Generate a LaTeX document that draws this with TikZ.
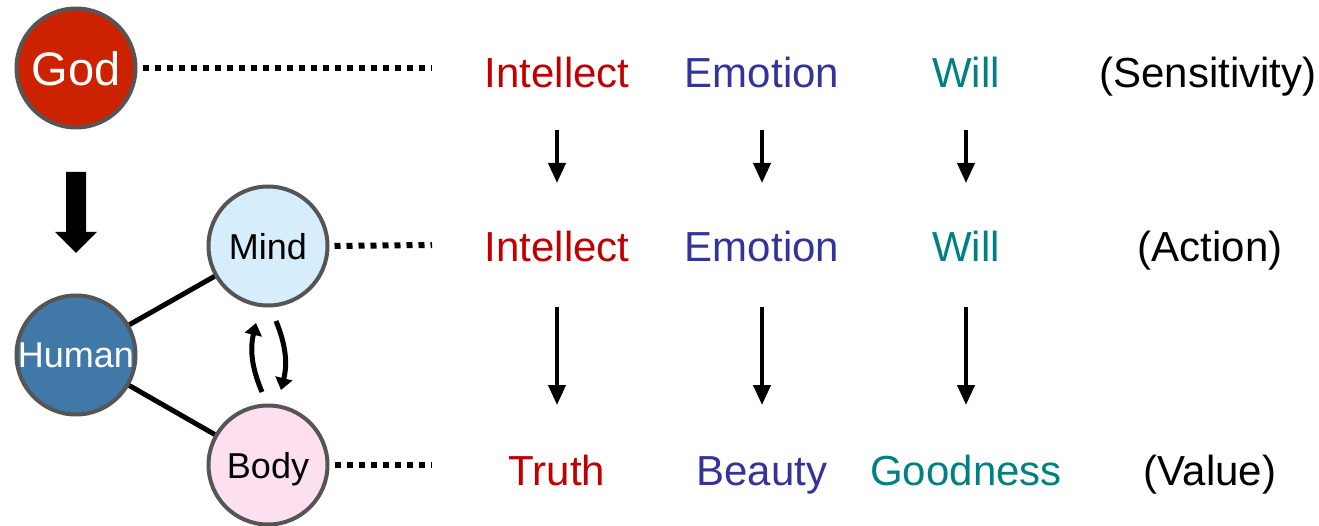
\documentclass[tikz,border=0pt]{standalone}
\usepackage{fontspec}
\setmainfont{Liberation Sans}
\usetikzlibrary{arrows.meta}
\definecolor{godred}{HTML}{CC2200}
\definecolor{humanblue}{HTML}{4078A8}
\definecolor{mindblue}{HTML}{D6EEFC}
\definecolor{bodypink}{HTML}{FDE0EF}
\definecolor{bordergray}{HTML}{555555}
\definecolor{intred}{HTML}{C00000}
\definecolor{emoblue}{HTML}{333399}
\definecolor{willteal}{HTML}{008080}
\begin{document}
\begin{tikzpicture}[x=1pt,y=-1pt,
  circ/.style={circle,draw=bordergray,line width=4pt,minimum size=119pt,inner sep=0pt,text depth=0pt},
  lbl/.style={anchor=base,font=\fontsize{42}{50}\selectfont,inner sep=0pt},
  dots/.style={line width=6pt,dash pattern=on 6pt off 6pt,shorten <=5pt},
  arr/.style={line width=4pt,-{Triangle[width=17pt,length=20pt]}},
  cyc/.style={line width=5pt,-{Triangle[width=17pt,length=12pt]}},
  link/.style={line width=5pt}
  ]
\useasboundingbox (0,0) rectangle (1319,526);
% circles
\node[circ,fill=godred,text=white,font=\fontsize{47}{50}\selectfont] (god) at (76,68) {God};
\node[circ,fill=humanblue,text=white,font=\fontsize{36}{40}\selectfont] (human) at (76,355) {Human};
\node[circ,fill=mindblue,font=\fontsize{36}{40}\selectfont] (mind) at (268,246) {Mind};
\node[circ,fill=bodypink,font=\fontsize{36}{40}\selectfont] (body) at (268,465) {Body};
% links
\draw[link] (human) -- (mind);
\draw[link] (human) -- (body);
% big arrow
\fill (66,172) -- (86,172) -- (86,232) -- (97,232) -- (76,253) -- (55,232) -- (66,232) -- cycle;
% cycle arrows
\coordinate (c1s) at (262,392);
\coordinate (c1e) at (256,323);
\coordinate (c2s) at (276,321);
\coordinate (c2e) at (281,390);
\draw[cyc] (c1s) to[bend left=18] (c1e);
\draw[cyc] (c2s) to[bend left=18] (c2e);
% dotted lines
\coordinate (gend) at (432,68);
\coordinate (mend) at (432,245);
\coordinate (bend) at (432,465);
\draw[dots] (god.east) -- (gend);
\draw[dots] (mind.east) -- (mend);
\draw[dots] (body.east) -- (bend);
% row 1
\node[lbl,text=intred] (i1) at (557,88) {Intellect};
\node[lbl,text=emoblue] (e1) at (762,88) {Emotion};
\node[lbl,text=willteal] (w1) at (966,88) {Will};
\node[lbl] (s1) at (1208,88) {(Sensitivity)};
% row 2
\node[lbl,text=intred] (i2) at (557,262) {Intellect};
\node[lbl,text=emoblue] (e2) at (762,262) {Emotion};
\node[lbl,text=willteal] (w2) at (966,262) {Will};
\node[lbl] (s2) at (1210,262) {(Action)};
% row 3
\node[lbl,text=intred] (i3) at (557,485) {Truth};
\node[lbl,text=emoblue] (e3) at (762,485) {Beauty};
\node[lbl,text=willteal] (w3) at (966,485) {Goodness};
\node[lbl] (s3) at (1210,485) {(Value)};
% arrows
\foreach \a/\b in {i1/i2,e1/e2,w1/w2}
  \draw[arr] ([yshift=-42pt]\a.base) -- ([yshift=79pt]\b.base);
\foreach \a/\b in {i2/i3,e2/e3,w2/w3}
  \draw[arr] ([yshift=-45pt]\a.base) -- ([yshift=80pt]\b.base);
\end{tikzpicture}
\end{document}
